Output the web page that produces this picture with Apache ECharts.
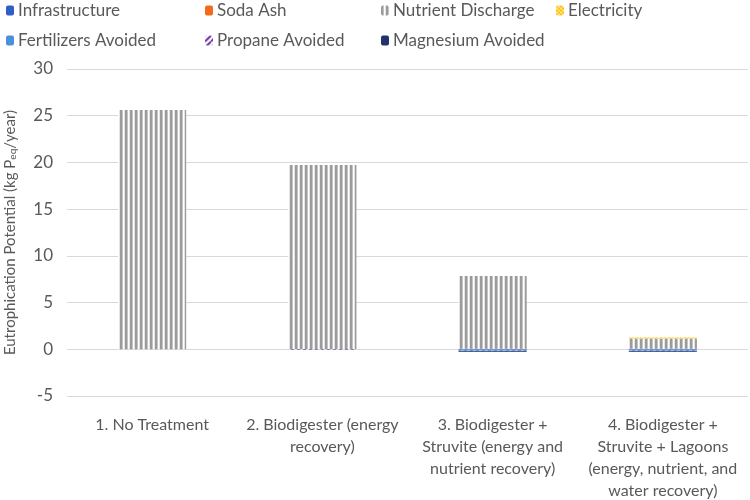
<!DOCTYPE html>
<html><head><meta charset="utf-8">
<script src="https://cdn.jsdelivr.net/npm/echarts@6/dist/echarts.min.js"></script>
<style>html,body{margin:0;padding:0;background:#fff}#c{width:750px;height:500px}</style>
</head><body><div id="c"></div>
<script>
const categories = [
  "1. No Treatment",
  "2. Biodigester (energy\nrecovery)",
  "3. Biodigester +\nStruvite (energy and\nnutrient recovery)",
  "4. Biodigester +\nStruvite + Lagoons\n(energy, nutrient, and\nwater recovery)"
];
const infrastructure = [0, 0.02, 0.04, 0.04];
const sodaAsh = [0, 0, 0.01, 0.01];
const nutrientDischarge = [25.6, 19.7, 7.8, 1.1];
const electricity = [0, 0, 0, 0.12];
const fertilizersAvoided = [0, 0, -0.15, -0.15];
const propaneAvoided = [0, -0.06, -0.05, -0.05];
const magnesiumAvoided = [0, 0, -0.1, -0.1];
const yTicks = { min: -5, max: 30, interval: 5 };

const FONT = 'Lato, "Open Sans", sans-serif';
const TXT = '#595959';

function pat(w, h, draw) {
  const c = document.createElement('canvas');
  c.width = w; c.height = h;
  const g = c.getContext('2d');
  draw(g);
  return { image: c, repeat: 'repeat' };
}
const nutrientPat = pat(5, 2, g => {
  g.fillStyle = '#ffffff'; g.fillRect(0, 0, 5, 2);
  g.fillStyle = '#9b9b9b'; g.fillRect(0, 0, 2, 2);
  g.fillStyle = '#c4c4c4'; g.fillRect(2, 0, 1, 2);
  g.fillStyle = '#e4e4e4'; g.fillRect(4, 0, 1, 2);
});
const elecPat = pat(4, 4, g => {
  g.fillStyle = '#ffe699'; g.fillRect(0, 0, 4, 4);
  g.fillStyle = '#ffc000';
  g.fillRect(0, 0, 2, 2); g.fillRect(2, 2, 2, 2);
});
const propanePat = pat(6, 6, g => {
  g.fillStyle = '#ffffff'; g.fillRect(0, 0, 6, 6);
  g.strokeStyle = '#7030a0'; g.lineWidth = 2;
  g.beginPath();
  for (let k = -6; k <= 12; k += 6) { g.moveTo(k, 6); g.lineTo(k + 6, 0); }
  g.stroke();
});

const seriesDefs = [
  { name: 'Infrastructure', data: infrastructure, color: '#2f5fc4' },
  { name: 'Soda Ash', data: sodaAsh, color: '#f26b1d' },
  { name: 'Nutrient Discharge', data: nutrientDischarge, color: nutrientPat },
  { name: 'Electricity', data: electricity, color: elecPat },
  { name: 'Fertilizers Avoided', data: fertilizersAvoided, color: '#4a90dc' },
  { name: 'Propane Avoided', data: propaneAvoided, color: propanePat },
  { name: 'Magnesium Avoided', data: magnesiumAvoided, color: '#1f3468' }
];

const legendPos = [
  [6, 2], [205, 2], [381, 2], [556, 2],
  [6, 32], [205, 32], [381, 32]
];

const chart = echarts.init(document.getElementById('c'), null, { renderer: 'canvas' });
chart.setOption({
  animation: false,
  backgroundColor: '#ffffff',
  textStyle: { fontFamily: FONT },
  legend: seriesDefs.map((s, i) => ({
    data: [s.name],
    left: legendPos[i][0], top: legendPos[i][1],
    padding: 0, itemWidth: 8, itemHeight: 10, itemGap: 0,
    textStyle: { fontFamily: FONT, fontSize: 17, color: TXT, padding: [0, 0, 0, -1] }
  })),
  grid: { left: 67, right: 2, top: 69, bottom: 104, containLabel: false, outerBoundsMode: 'none' },
  xAxis: {
    type: 'category',
    data: categories,
    axisLine: { show: false },
    axisTick: { show: false },
    axisLabel: { interval: 0, margin: 18, fontFamily: FONT, fontSize: 16, color: TXT, lineHeight: 22, align: 'center' }
  },
  yAxis: {
    type: 'value',
    min: yTicks.min, max: yTicks.max, interval: yTicks.interval,
    axisLine: { show: false }, axisTick: { show: false },
    splitLine: { lineStyle: { color: '#d9d9d9', width: 1 } },
    axisLabel: { margin: 14, fontFamily: FONT, fontSize: 17, color: TXT },
    name: '{a|Eutrophication Potential (kg P}{s|eq}{a|/year)}',
    nameLocation: 'middle', nameRotate: 90, nameGap: 49,
    nameTextStyle: {
      rich: {
        a: { fontFamily: FONT, fontSize: 15, color: TXT },
        s: { fontFamily: FONT, fontSize: 10, color: TXT, verticalAlign: 'bottom', padding: [6, 0, 0, 0] }
      }
    }
  },
  series: seriesDefs.map(s => ({
    name: s.name, type: 'bar', stack: 'total', barWidth: '40%',
    data: s.data,
    itemStyle: { color: s.color }
  }))
});
</script></body></html>
